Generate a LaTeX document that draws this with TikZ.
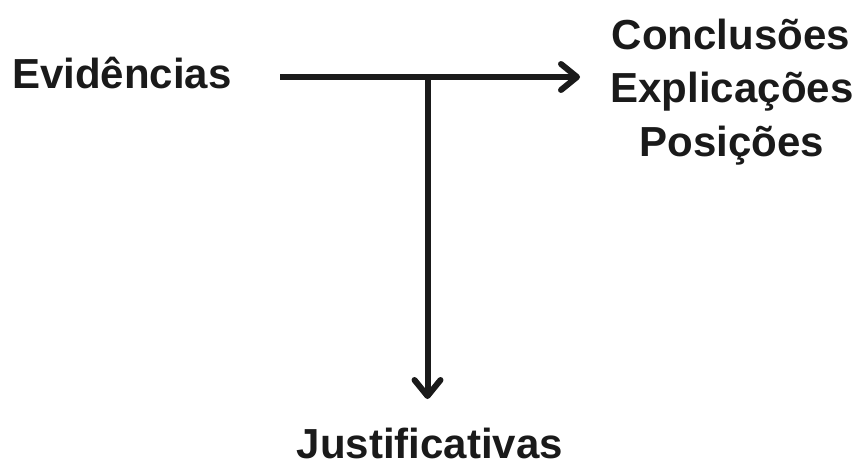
\documentclass[tikz,border=0pt]{standalone}
\usepackage{fontspec}
\setmainfont{Liberation Sans}
\usetikzlibrary{arrows.meta}
\definecolor{ink}{HTML}{1A1A1A}
\begin{document}
\begin{tikzpicture}[x=1pt,y=-1pt,
  lbl/.style={inner sep=0pt,text=ink,font=\fontsize{42}{50}\selectfont\bfseries,anchor=base},
  arr/.style={draw=ink,line width=6pt,-{Straight Barb[length=16pt,width=26pt,line width=6pt,round]}}]
\useasboundingbox (0,0) rectangle (859,468);
\node[lbl,anchor=base west] (ev) at (12,89) {Evidências};
\node[lbl] (conc) at (731,50) {Conclusões};
\node[lbl] (expl) at (732,103) {Explicações};
\node[lbl] (pos) at (732,157) {Posições};
\node[lbl] (jus) at (430,458) {Justificativas};
\coordinate (hs) at (280,77);
\coordinate (he) at (580,77);
\coordinate (jn) at (427.5,77);
\coordinate (ve) at (427.5,399);
\draw[arr] (hs) -- (he);
\draw[arr] ([yshift=-3pt]jn) -- (ve);
\end{tikzpicture}
\end{document}
